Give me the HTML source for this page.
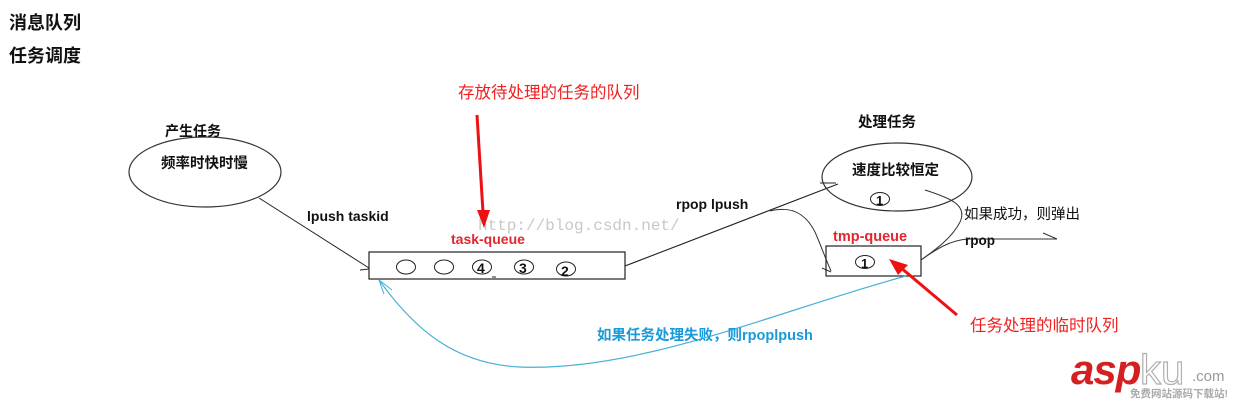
<!DOCTYPE html>
<html><head><meta charset="utf-8">
<style>
html,body{margin:0;padding:0;background:#fff;}
svg{display:block;}
.cjk{font-family:"Liberation Sans","Noto Sans CJK SC",sans-serif;}
</style></head>
<body>
<svg width="1240" height="401" viewBox="0 0 1240 401" xmlns="http://www.w3.org/2000/svg">
<rect width="1240" height="401" fill="#fff"/>
<g class="cjk" font-family="Liberation Sans, Noto Sans CJK SC, sans-serif">
<text x="9" y="29" font-size="18" font-weight="bold" fill="#111">消息队列</text>
<text x="9" y="62" font-size="18" font-weight="bold" fill="#111">任务调度</text>

<!-- left ellipse -->
<ellipse cx="205" cy="172" rx="76" ry="35" fill="none" stroke="#333" stroke-width="1.2"/>
<text x="165" y="136" font-size="14" font-weight="bold" fill="#111">产生任务</text>
<text x="161" y="168" font-size="14.5" font-weight="bold" fill="#111">频率时快时慢</text>

<!-- lpush line -->
<line x1="259" y1="198" x2="369" y2="268" stroke="#222" stroke-width="1"/>
<line x1="360" y1="270" x2="369" y2="269" stroke="#222" stroke-width="1"/>
<text x="307" y="221" font-size="14" font-weight="bold" fill="#111">lpush taskid</text>

<!-- task queue -->
<rect x="369" y="252" width="256" height="27" fill="none" stroke="#222" stroke-width="1.2"/>
<ellipse cx="406" cy="267" rx="9.5" ry="7" fill="none" stroke="#222" stroke-width="1"/>
<ellipse cx="444" cy="267" rx="9.5" ry="7" fill="none" stroke="#222" stroke-width="1"/>
<ellipse cx="482" cy="267" rx="9.5" ry="7" fill="none" stroke="#222" stroke-width="1"/>
<text x="477" y="273" font-size="14" font-weight="bold" fill="#111">4</text>
<line x1="492" y1="277" x2="496" y2="277" stroke="#222" stroke-width="1"/>
<ellipse cx="524" cy="267" rx="9.5" ry="7" fill="none" stroke="#222" stroke-width="1"/>
<text x="519" y="273" font-size="14" font-weight="bold" fill="#111">3</text>
<ellipse cx="566" cy="269" rx="9.5" ry="7" fill="none" stroke="#222" stroke-width="1"/>
<text x="561" y="276" font-size="14" font-weight="bold" fill="#111">2</text>
<text x="451" y="244" font-size="14" font-weight="bold" fill="#e2262e">task-queue</text>

<!-- watermark -->
<text x="478" y="230" font-size="16" font-family="Liberation Mono, monospace" fill="#c8c8c8">http://blog.csdn.net/</text>

<!-- red arrow top -->
<line x1="477" y1="115" x2="483" y2="212" stroke="#ee1111" stroke-width="3"/>
<polygon points="477,210 490,210 484,228" fill="#ee1111"/>
<text x="458" y="98" font-size="16.5" fill="#f02020">存放待处理的任务的队列</text>

<!-- rpop lpush line -->
<line x1="625" y1="266" x2="838" y2="184" stroke="#222" stroke-width="1.1"/>
<line x1="820" y1="183" x2="836" y2="183" stroke="#222" stroke-width="1"/>
<path d="M770 211 C790 206 805 212 815 232 C822 248 826 260 831 271" fill="none" stroke="#333" stroke-width="1"/>
<line x1="822" y1="268" x2="831" y2="272" stroke="#333" stroke-width="1"/>
<text x="676" y="209" font-size="14" font-weight="bold" fill="#111">rpop lpush</text>

<!-- right ellipse -->
<ellipse cx="897" cy="177" rx="75" ry="34" fill="none" stroke="#333" stroke-width="1.2"/>
<text x="858" y="127" font-size="14.5" font-weight="bold" fill="#111">处理任务</text>
<text x="852" y="175" font-size="14.5" font-weight="bold" fill="#111">速度比较恒定</text>
<ellipse cx="880" cy="199" rx="9.5" ry="6.5" fill="none" stroke="#222" stroke-width="1"/>
<text x="876" y="205" font-size="13" font-weight="bold" fill="#111">1</text>

<!-- tmp queue -->
<rect x="826" y="246" width="95" height="30" fill="none" stroke="#222" stroke-width="1.2"/>
<text x="833" y="241" font-size="14.5" font-weight="bold" fill="#e2262e">tmp-queue</text>
<ellipse cx="865" cy="262" rx="9.5" ry="6.5" fill="none" stroke="#222" stroke-width="1"/>
<text x="861" y="268" font-size="13" font-weight="bold" fill="#111">1</text>

<!-- success curves -->
<path d="M925 190 C950 198 968 205 960 222 C952 238 935 250 921 260" fill="none" stroke="#333" stroke-width="1"/>
<path d="M921 260 C935 250 950 240 968 239 L1057 239" fill="none" stroke="#333" stroke-width="1"/>
<line x1="1043" y1="233" x2="1057" y2="239" stroke="#333" stroke-width="1"/>
<text x="964" y="219" font-size="14.5" fill="#111">如果成功，则弹出</text>
<text x="965" y="245" font-size="13.5" font-weight="bold" fill="#111">rpop</text>

<!-- blue fail curve -->
<path d="M906 276 C780 310 640 372 520 367 C455 364 415 330 379 280" fill="none" stroke="#4ab0d8" stroke-width="1.2"/>
<line x1="379" y1="280" x2="384" y2="294" stroke="#4ab0d8" stroke-width="1"/>
<line x1="379" y1="280" x2="392" y2="290" stroke="#4ab0d8" stroke-width="1"/>
<text x="597" y="340" font-size="14.5" font-weight="bold" fill="#1a9ad8">如果任务处理失败，则rpoplpush</text>

<!-- red arrow bottom -->
<line x1="957" y1="315" x2="900" y2="267" stroke="#ee1111" stroke-width="3"/>
<polygon points="889,259 908,265 898,275" fill="#ee1111"/>
<text x="970" y="331" font-size="16.5" fill="#f02020">任务处理的临时队列</text>

<!-- logo -->
<text x="1071" y="384" font-size="42" font-weight="bold" font-style="italic" fill="#d42020" font-family="Liberation Sans, sans-serif" letter-spacing="-1">asp</text>
<text x="1140" y="384" font-size="42" fill="#fff" stroke="#b0b0b0" stroke-width="1.2" font-family="Liberation Sans, sans-serif">ku</text>
<text x="1192" y="381" font-size="15" fill="#999" font-family="Liberation Sans, sans-serif">.com</text>
<text x="1130" y="397" font-size="10.5" font-weight="bold" fill="#aaa">免费网站源码下载站!</text>
</g>
</svg>
</body></html>
